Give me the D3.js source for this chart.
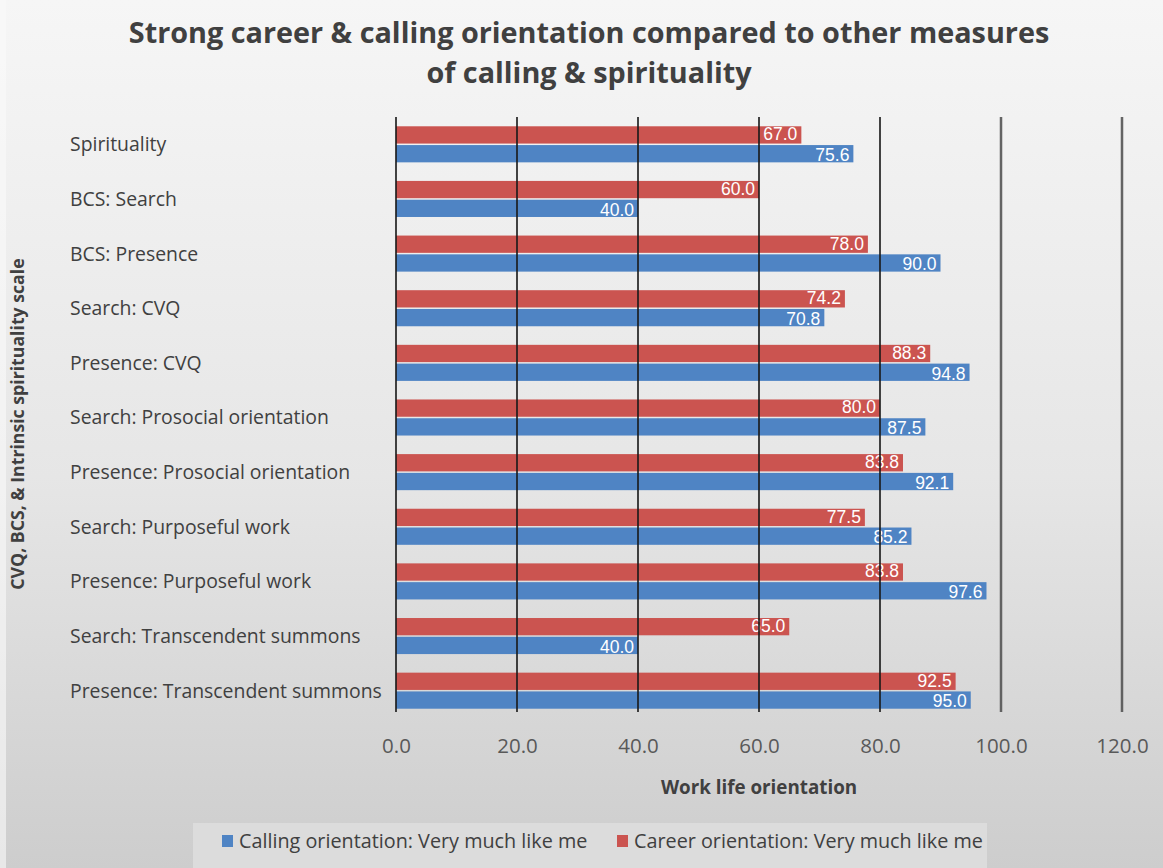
<!DOCTYPE html>
<html>
<head>
<meta charset="utf-8">
<script src="https://cdn.jsdelivr.net/npm/d3@7"></script>
<style>
  html, body { margin: 0; padding: 0; background: #fff; }
  svg { display: block; }
  text { font-family: "Open Sans", "Noto Sans", sans-serif; }
  text.dl { font-family: "Liberation Sans", Arial, sans-serif; }
</style>
</head>
<body>
<svg id="chart" width="1163" height="868"></svg>
<script>
const categories = [
  "Spirituality",
  "BCS: Search",
  "BCS: Presence",
  "Search: CVQ",
  "Presence: CVQ",
  "Search: Prosocial orientation",
  "Presence: Prosocial orientation",
  "Search: Purposeful work",
  "Presence: Purposeful work",
  "Search: Transcendent summons",
  "Presence: Transcendent summons"
];
const callingValues = [75.6, 40.0, 90.0, 70.8, 94.8, 87.5, 92.1, 85.2, 97.6, 40.0, 95.0];
const careerValues  = [67.0, 60.0, 78.0, 74.2, 88.3, 80.0, 83.8, 77.5, 83.8, 65.0, 92.5];
const seriesNames = ["Calling orientation: Very much like me", "Career orientation: Very much like me"];
const xTicks = [0, 20, 40, 60, 80, 100, 120];
const titleLines = ["Strong career & calling orientation compared to other measures", "of calling & spirituality"];
const xAxisTitle = "Work life orientation";
const yAxisTitle = "CVQ, BCS, & Intrinsic spirituality scale";

const W = 1163, H = 868;
const svg = d3.select("#chart");
const BLUE = "#4f84c4", RED = "#cb5450", TXT = "#404040";

const defs = svg.append("defs");
const bg = defs.append("linearGradient").attr("id", "bg").attr("x1", 0).attr("y1", 0).attr("x2", 0).attr("y2", 1);
bg.append("stop").attr("offset", "0%").attr("stop-color", "#f6f6f6");
bg.append("stop").attr("offset", "55%").attr("stop-color", "#e6e6e6");
bg.append("stop").attr("offset", "100%").attr("stop-color", "#cdcdcd");
svg.append("rect").attr("width", W).attr("height", H).attr("fill", "url(#bg)");
svg.append("rect").attr("x", 0).attr("y", 0).attr("width", 6).attr("height", H).attr("fill", "#fafafa").attr("opacity", 0.6);

// Title
svg.append("g").selectAll("text").data(titleLines).join("text")
  .attr("x", 589).attr("y", (d, i) => 43 + i * 40)
  .attr("text-anchor", "middle")
  .attr("font-size", 28.8).attr("font-weight", 700).attr("fill", TXT)
  .text(d => d);

const x = d3.scaleLinear().domain([0, 120]).range([396, 1122]);
const y = d3.scaleBand().domain(categories).range([117, 718]).paddingInner(0.34).paddingOuter(0.17);
const sub = d3.scaleBand().domain(["career", "calling"]).range([0, y.bandwidth()]).paddingInner(0.08);

// Bars
const g = svg.append("g");
const rows = g.selectAll("g.row").data(categories.map((c, i) => ({c, calling: callingValues[i], career: careerValues[i]})))
  .join("g").attr("class", "row").attr("transform", d => `translate(0,${y(d.c)})`);

rows.append("rect").attr("x", x(0)).attr("y", sub("career"))
  .attr("width", d => x(d.career) - x(0)).attr("height", sub.bandwidth()).attr("fill", RED);
rows.append("rect").attr("x", x(0)).attr("y", sub("calling"))
  .attr("width", d => x(d.calling) - x(0)).attr("height", sub.bandwidth()).attr("fill", BLUE);

// Gridlines (drawn over bars)
svg.append("g").selectAll("line").data(xTicks).join("line")
  .attr("x1", d => x(d)).attr("x2", d => x(d))
  .attr("y1", 117).attr("y2", 712)
  .attr("stroke", d => d >= 100 ? "#555" : "#1a1a1a")
  .attr("stroke-width", d => d >= 100 ? 2.5 : 1.8)
  .attr("opacity", 0.9);

// Data labels
rows.append("text").attr("class", "dl").attr("x", d => x(d.career) - 4).attr("y", sub("career") + sub.bandwidth() / 2 - 1)
  .attr("dy", "0.36em").attr("text-anchor", "end").attr("font-size", 17.5).attr("fill", "#fff")
  .text(d => d.career.toFixed(1));
rows.append("text").attr("class", "dl").attr("x", d => x(d.calling) - 4).attr("y", sub("calling") + sub.bandwidth() / 2 + 1)
  .attr("dy", "0.36em").attr("text-anchor", "end").attr("font-size", 17.5).attr("fill", "#fff")
  .text(d => d.calling.toFixed(1));

// Category labels
svg.append("g").selectAll("text").data(categories).join("text")
  .attr("x", 70).attr("y", d => y(d) + y.bandwidth() / 2)
  .attr("dy", "0.36em").attr("font-size", 19.4).attr("fill", TXT)
  .text(d => d);

// X tick labels
const xAxis = svg.append("g").attr("transform", "translate(0,722)")
  .call(d3.axisBottom(x).tickValues(xTicks).tickFormat(d3.format(".1f")).tickSize(0).tickPadding(16));
xAxis.select(".domain").remove();
xAxis.selectAll("text").attr("font-size", 20.5).attr("fill", "#595959")
  .attr("font-family", "'Open Sans', 'Noto Sans', sans-serif");

// Axis titles
svg.append("text").attr("x", 759).attr("y", 794).attr("text-anchor", "middle")
  .attr("font-size", 18.8).attr("font-weight", 700).attr("fill", TXT).text(xAxisTitle);
svg.append("text").attr("transform", "translate(24,424) rotate(-90)").attr("text-anchor", "middle")
  .attr("font-size", 17.7).attr("font-weight", 700).attr("fill", TXT).text(yAxisTitle);

// Legend
svg.append("rect").attr("x", 193).attr("y", 823).attr("width", 794).attr("height", 45).attr("fill", "#dcdcdc");
const legend = svg.append("g").attr("transform", "translate(222,841)");
const items = [{name: seriesNames[0], color: BLUE, x: 0}, {name: seriesNames[1], color: RED, x: 395}];
const li = legend.selectAll("g").data(items).join("g").attr("transform", d => `translate(${d.x},0)`);
li.append("rect").attr("x", 0).attr("y", -6).attr("width", 11).attr("height", 12).attr("fill", d => d.color);
li.append("text").attr("x", 17).attr("dy", "0.36em").attr("font-size", 19.8).attr("fill", TXT).text(d => d.name);
</script>
</body>
</html>
